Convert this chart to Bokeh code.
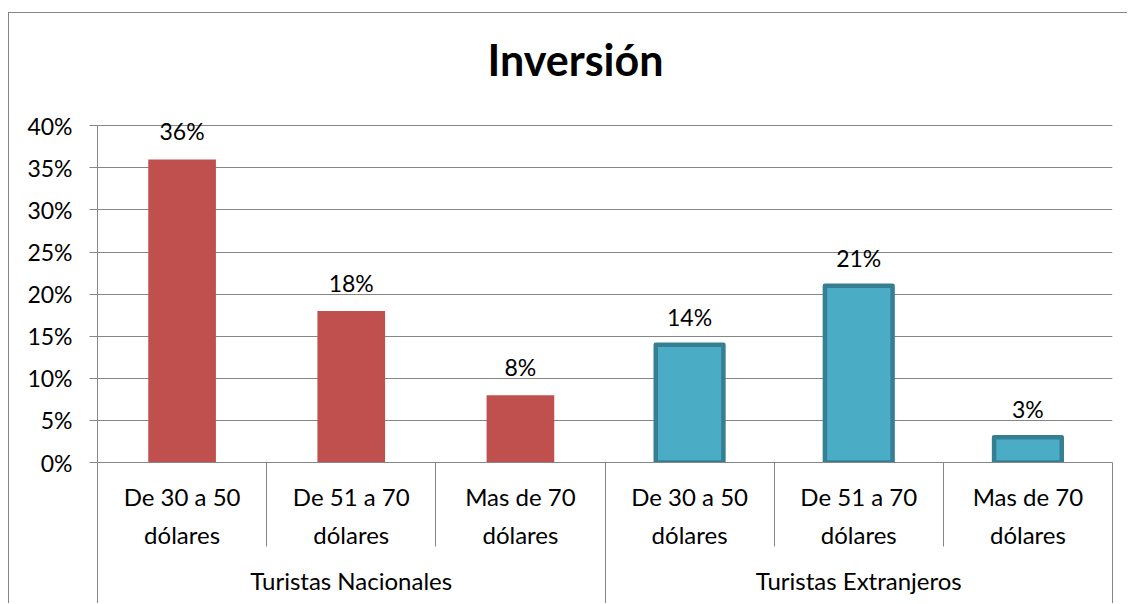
from bokeh.plotting import figure
from bokeh.models import (Range1d, LinearAxis, FixedTicker, NumeralTickFormatter,
                          ColumnDataSource, LabelSet)
from bokeh.core.properties import value
from bokeh.embed import file_html
from bokeh.resources import INLINE

# ---- data ----
title_text = "Inversión"
groups = ["Turistas Nacionales", "Turistas Extranjeros"]
categories = ["De 30 a 50\ndólares", "De 51 a 70\ndólares", "Mas de 70\ndólares"]
nacionales = [0.36, 0.18, 0.08]
extranjeros = [0.14, 0.21, 0.03]
y_ticks = [0.0, 0.05, 0.10, 0.15, 0.20, 0.25, 0.30, 0.35, 0.40]

FONT = "Lato"
GRAY = "#868686"
n = len(categories)
series = [nacionales, extranjeros]
positions = [[g * n + i + 1 for i in range(n)] for g in range(len(groups))]
all_pos = [x for grp in positions for x in grp]
boundaries = [x - 0.5 for x in all_pos] + [all_pos[-1] + 0.5]
group_bounds = [grp[0] - 0.5 for grp in positions] + [positions[-1][-1] + 0.5]
group_centers = [sum(grp) / len(grp) for grp in positions]

# headroom above the top tick so the data labels are not clipped
y_top = y_ticks[-1] + 0.03

p = figure(width=1119, height=591,
           x_range=Range1d(boundaries[0], boundaries[-1]),
           y_range=Range1d(y_ticks[0], y_top),
           output_backend="svg", toolbar_location=None,
           x_axis_location=None, y_axis_location="left",
           min_border_left=88, min_border_right=16,
           min_border_top=87, min_border_bottom=142,
           background_fill_color="white", border_fill_color="white",
           outline_line_color=None)
p.margin = (12, 0, 0, 8)
p.styles = {"border-left": "1px solid #868686", "border-top": "1px solid #868686"}

# title
p.title.text = title_text
p.title.align = "left"
p.title.offset = 390
p.title.standoff = 31
p.title.text_font = FONT
p.title.text_font_style = "bold"
p.title.text_font_size = "43px"
p.title.text_color = "black"

# y axis
p.yaxis.ticker = FixedTicker(ticks=y_ticks)
p.yaxis.bounds = (y_ticks[0], y_ticks[-1])
p.yaxis.formatter = NumeralTickFormatter(format="0%")
p.yaxis.major_label_text_font = FONT
p.yaxis.major_label_text_font_size = "23px"
p.yaxis.major_label_text_color = "black"
p.yaxis.axis_line_color = GRAY
p.yaxis.major_tick_line_color = GRAY
p.yaxis.major_tick_out = 8
p.yaxis.major_tick_in = 0
p.yaxis.minor_tick_line_color = None
p.yaxis.major_label_standoff = 17

p.ygrid.ticker = FixedTicker(ticks=y_ticks)
p.ygrid.grid_line_color = GRAY
p.xgrid.visible = False

# category axis (separators drawn as minor ticks)
SEP1 = 84
ax1 = LinearAxis(ticker=FixedTicker(ticks=all_pos, minor_ticks=boundaries),
                 major_label_overrides={x: categories[i % n] for i, x in enumerate(all_pos)},
                 major_tick_out=0, major_tick_in=0,
                 minor_tick_out=SEP1, minor_tick_in=0,
                 minor_tick_line_color=GRAY, axis_line_color=GRAY,
                 major_label_standoff=19 - SEP1,
                 major_label_text_font=FONT, major_label_text_font_size="24px",
                 major_label_text_color="black", major_label_text_line_height=1.33)
p.add_layout(ax1, "below")

# group axis
SEP2 = 60
ax2 = LinearAxis(ticker=FixedTicker(ticks=group_centers, minor_ticks=group_bounds),
                 major_label_overrides={c: groups[i] for i, c in enumerate(group_centers)},
                 major_tick_out=0, major_tick_in=0,
                 minor_tick_out=SEP2, minor_tick_in=12,
                 minor_tick_line_color=GRAY, axis_line_color=None,
                 major_label_standoff=13 - SEP2,
                 major_label_text_font=FONT, major_label_text_font_size="24px",
                 major_label_text_color="black")
p.add_layout(ax2, "below")

# bars
styles = [dict(fill_color="#C0504D", line_color=None),
          dict(fill_color="#4BACC6", line_color="#367F93", line_width=4.5, line_join="round")]
for g in range(len(groups)):
    src = ColumnDataSource(dict(x=positions[g], top=series[g],
                                label=[f"{v:.0%}" for v in series[g]]))
    p.vbar(x="x", top="top", width=0.4, source=src, **styles[g])
    p.add_layout(LabelSet(x="x", y="top", text="label", source=src,
                          text_align="center", text_baseline="alphabetic",
                          y_offset=19, text_font=value(FONT),
                          text_font_size=value("23px"), text_color="black"))

open("out.html", "w").write(file_html(p, INLINE))
